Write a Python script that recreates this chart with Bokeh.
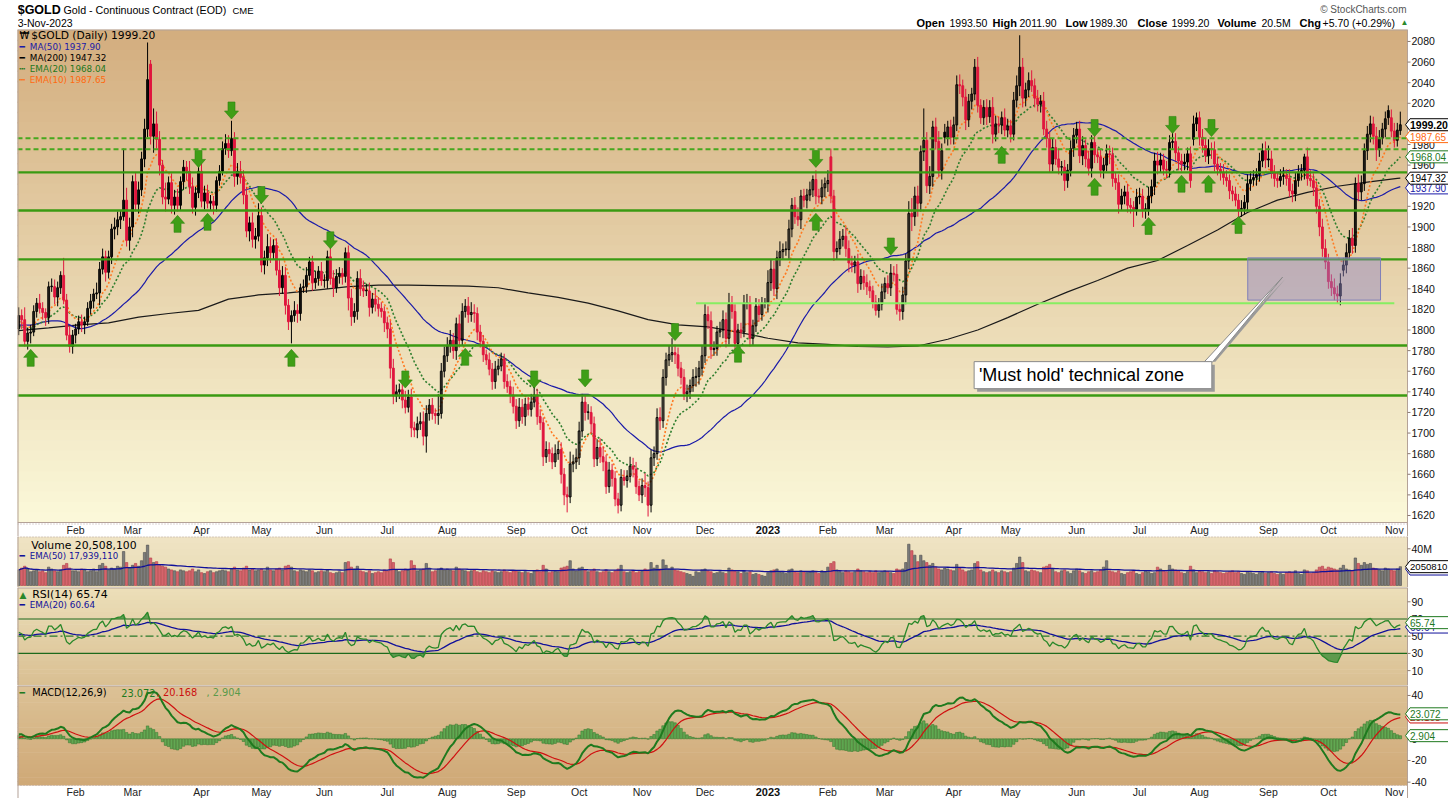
import numpy as np
import pandas as pd
from bokeh.plotting import figure
from bokeh.layouts import column
from bokeh.models import Range1d, Label
from bokeh.embed import file_html
from bokeh.resources import INLINE
from bokeh.core.properties import value

# ------------------------------------------------------------------ data
holidays = ["2022-01-17", "2022-02-21", "2022-04-15", "2022-05-30", "2022-06-20",
            "2022-07-04", "2022-09-05", "2022-11-24", "2022-12-26", "2023-01-02",
            "2023-01-16", "2023-02-20", "2023-04-07", "2023-05-29", "2023-06-19",
            "2023-07-04", "2023-09-04"]
first_day, last_day = "2022-01-04", "2023-11-03"

# closes before the visible window (22-Oct-2021 .. 3-Jan-2022), used for indicator warm-up
pre_closes = [1796, 1806, 1793, 1798, 1802, 1783, 1794, 1789, 1764, 1793, 1818, 1826, 1830,
              1849, 1862, 1868, 1867, 1853, 1868, 1862, 1852, 1805, 1790, 1784, 1788, 1785,
              1776, 1782, 1762, 1783, 1779, 1785, 1783, 1775, 1784, 1787, 1770, 1765, 1798,
              1804, 1791, 1790, 1803, 1809, 1811, 1810, 1805, 1814, 1828, 1801]

closes = [
    # 2022 Jan
    1814, 1810, 1789, 1797, 1798, 1818, 1826, 1821, 1817, 1812, 1842, 1842, 1832, 1841, 1853, 1829, 1795, 1784, 1795,
    # Feb
    1801, 1808, 1805, 1808, 1821, 1828, 1835, 1836, 1859, 1871, 1856, 1871, 1898, 1900, 1907, 1910, 1926, 1887, 1900,
    # Mar
    1944, 1922, 1936, 1966, 1995, 2043, 1988, 2000, 1985, 1960, 1929, 1927, 1943, 1921, 1929, 1921, 1944, 1958, 1954, 1939, 1919, 1933, 1954,
    # Apr
    1925, 1933, 1923, 1925, 1921, 1945, 1954, 1976, 1981, 1974, 1986, 1949, 1954, 1948, 1931, 1896, 1904, 1888, 1891, 1911,
    # May
    1863, 1870, 1881, 1875, 1882, 1858, 1841, 1853, 1824, 1808, 1814, 1819, 1816, 1841, 1842, 1853, 1866, 1846, 1850, 1857, 1848,
    # Jun
    1848, 1871, 1850, 1841, 1852, 1855, 1852, 1875, 1831, 1813, 1818, 1850, 1840, 1838, 1838, 1822, 1830, 1825, 1821, 1818, 1807,
    # Jul
    1801, 1763, 1736, 1740, 1742, 1732, 1725, 1735, 1705, 1703, 1709, 1711, 1697, 1719, 1727, 1719, 1717, 1719, 1760, 1775,
    # Aug
    1785, 1790, 1780, 1806, 1790, 1818, 1823, 1815, 1817, 1816, 1798, 1789, 1776, 1771, 1762, 1750, 1762, 1765, 1772, 1750, 1745, 1737, 1726,
    # Sep
    1712, 1725, 1716, 1728, 1723, 1730, 1737, 1716, 1710, 1677, 1684, 1680, 1672, 1680, 1684, 1660, 1640, 1638, 1670, 1672, 1676,
    # Oct
    1702, 1730, 1720, 1720, 1709, 1675, 1686, 1677, 1672, 1648, 1664, 1656, 1636, 1630, 1657, 1654, 1658, 1668, 1665, 1648, 1640,
    # Nov
    1649, 1647, 1630, 1676, 1680, 1715, 1712, 1754, 1771, 1776, 1778, 1776, 1763, 1754, 1738, 1740, 1746, 1754, 1755, 1763, 1775,
    # Dec
    1815, 1809, 1781, 1782, 1798, 1800, 1810, 1792, 1825, 1818, 1787, 1800, 1798, 1826, 1826, 1792, 1804, 1823, 1815, 1826, 1826,
    # 2023 Jan
    1846, 1859, 1840, 1870, 1876, 1878, 1878, 1898, 1921, 1910, 1907, 1930, 1926, 1931, 1936, 1946, 1930, 1929, 1938, 1942,
    # Feb
    1945, 1930, 1876, 1879, 1888, 1891, 1879, 1865, 1863, 1866, 1845, 1852, 1846, 1842, 1838, 1827, 1819, 1825, 1837,
    # Mar
    1845, 1841, 1855, 1854, 1820, 1818, 1834, 1867, 1913, 1910, 1930, 1923, 1973, 1984, 1940, 1949, 1997, 1983, 1955, 1974, 1987, 1997, 1987,
    # Apr
    1999, 2038, 2037, 2026, 2004, 2022, 2029, 2055, 2018, 2006, 2016, 2007, 2016, 1990, 2000, 1999, 2006, 1994, 1998,
    # May
    1990, 2023, 2037, 2055, 2025, 2033, 2042, 2037, 2025, 2019, 2022, 1995, 1986, 1961, 1977, 1966, 1958, 1958, 1945, 1955, 1976, 1989,
    # Jun
    1995, 1969, 1979, 1966, 1957, 1982, 1970, 1968, 1955, 1960, 1971, 1970, 1947, 1943, 1922, 1930, 1934, 1921, 1919, 1917, 1929,
    # Jul
    1930, 1917, 1917, 1930, 1939, 1964, 1960, 1965, 1956, 1955, 1982, 1983, 1972, 1964, 1961, 1963, 1971, 1945, 2000, 2006,
    # Aug
    1987, 1979, 1969, 1976, 1975, 1961, 1956, 1953, 1948, 1945, 1935, 1932, 1926, 1917, 1918, 1924, 1942, 1946, 1948, 1951, 1964, 1974, 1965,
    # Sep
    1966, 1953, 1947, 1945, 1949, 1950, 1947, 1935, 1932, 1945, 1953, 1955, 1968, 1947, 1945, 1938, 1920, 1900, 1879, 1866,
    # Oct
    1847, 1841, 1835, 1833, 1845, 1863, 1875, 1889, 1882, 1942, 1934, 1942, 1974, 1990, 2000, 1988, 1975, 1986, 1995, 2005, 2006, 1993,
    # Nov
    1984, 1994, 1999.2,
]

# opens that differ from the previous close (contract rolls, overnight gaps)
gap_opens = {"2022-03-09": 2058, "2023-02-02": 1968, "2023-03-29": 1992, "2023-07-28": 1985,
             "2023-10-09": 1858, "2023-10-30": 2013, "2023-11-03": 1993.5}

# distance of the high above the body / low below the body
wick_up = [
    8, 6, 12, 5, 7, 6, 5, 9, 6, 4, 5, 8, 7, 6, 4, 17, 6, 9, 5,
    5, 6, 7, 5, 6, 7, 5, 10, 7, 8, 6, 6, 5, 9, 8, 6, 50, 12, 9,
    6, 9, 8, 7, 10, 36, 4, 15, 12, 8, 5, 14, 6, 9, 7, 8, 5, 7, 6, 10, 9, 6, 5,
    9, 7, 8, 6, 5, 4, 6, 7, 9, 8, 17, 6, 8, 10, 7, 8, 6, 10, 8, 12,
    8, 7, 12, 9, 6, 7, 10, 9, 8, 6, 5, 9, 6, 4, 7, 8, 5, 6, 7, 5, 9,
    6, 6, 9, 8, 7, 6, 5, 5, 7, 9, 8, 7, 9, 8, 7, 8, 6, 9, 7, 6, 5,
    6, 8, 9, 7, 6, 8, 9, 7, 8, 6, 7, 9, 10, 8, 6, 7, 5, 19, 8, 9,
    8, 10, 7, 6, 9, 8, 7, 9, 10, 8, 6, 7, 6, 5, 7, 6, 8, 7, 6, 5, 7, 6, 8,
    7, 9, 8, 6, 7, 8, 9, 6, 7, 5, 8, 7, 6, 9, 8, 7, 6, 8, 12, 7, 9,
    9, 8, 7, 8, 6, 7, 8, 9, 10, 7, 8, 6, 7, 6, 8, 7, 6, 9, 8, 7, 6,
    7, 12, 6, 8, 7, 9, 10, 8, 7, 9, 14, 8, 7, 6, 8, 7, 6, 8, 9, 7, 10,
    10, 8, 9, 7, 6, 8, 9, 7, 11, 8, 7, 6, 7, 8, 9, 7, 6, 8, 7, 6, 5,
    12, 9, 8, 7, 10, 6, 8, 9, 7, 8, 9, 6, 7, 6, 8, 4, 9, 7, 8, 6,
    10, 8, 6, 7, 8, 7, 9, 8, 7, 6, 8, 7, 6, 8, 6, 5, 7, 6, 8,
    6, 8, 9, 7, 10, 6, 8, 7, 12, 15, 9, 10, 6, 31, 8, 10, 6, 9, 10, 7, 8, 6, 7,
    8, 9, 10, 6, 8, 7, 6, 8, 10, 6, 7, 8, 7, 10, 8, 7, 6, 9, 7,
    6, 8, 10, 31, 9, 7, 8, 10, 7, 8, 6, 9, 8, 7, 9, 8, 10, 6, 7, 6, 8, 7,
    7, 8, 9, 6, 8, 7, 9, 6, 8, 7, 9, 8, 7, 6, 8, 7, 6, 8, 7, 6, 8,
    8, 7, 6, 9, 7, 8, 9, 7, 6, 8, 7, 9, 8, 6, 7, 8, 6, 7, 8, 5,
    6, 8, 7, 9, 6, 8, 7, 6, 8, 7, 6, 5, 7, 6, 8, 7, 9, 8, 7, 6, 8, 7, 9,
    13, 8, 7, 6, 7, 8, 6, 9, 7, 8, 7, 6, 3, 9, 8, 7, 6, 7, 8, 9,
    8, 7, 9, 8, 10, 7, 9, 8, 10, 6, 9, 8, 7, 8, 8, 7, 9, 8, 6, 7, 5, 8,
    8, 7, 12.7,
]
wick_dn = [
    6, 9, 5, 8, 10, 4, 6, 5, 7, 8, 6, 5, 7, 9, 6, 4, 5, 6, 7,
    8, 5, 7, 9, 4, 6, 7, 5, 12, 5, 9, 6, 7, 10, 8, 9, 4, 6, 10,
    10, 7, 9, 6, 8, 8, 8, 16, 9, 10, 7, 12, 5, 8, 9, 6, 5, 8, 9, 7, 6, 8, 5,
    6, 8, 5, 7, 9, 6, 5, 4, 6, 7, 5, 10, 8, 6, 9, 6, 10, 8, 9, 5,
    7, 9, 8, 10, 6, 5, 8, 6, 9, 8, 21, 6, 9, 7, 5, 6, 5, 8, 6, 7, 5,
    7, 8, 6, 9, 5, 7, 8, 6, 12, 9, 6, 8, 7, 6, 5, 9, 6, 7, 8, 6, 9,
    9, 10, 8, 6, 7, 8, 6, 5, 9, 7, 8, 6, 9, 16, 7, 6, 8, 9, 5, 6,
    6, 7, 8, 9, 7, 5, 6, 8, 7, 9, 8, 6, 7, 5, 6, 8, 7, 6, 5, 7, 6, 8, 7,
    8, 6, 7, 9, 6, 7, 5, 8, 7, 9, 6, 8, 7, 5, 6, 9, 10, 15, 6, 8, 7,
    7, 6, 8, 7, 9, 8, 7, 6, 9, 7, 6, 8, 7, 8, 6, 5, 7, 6, 8, 7, 6,
    8, 9, 11, 7, 8, 6, 9, 7, 8, 6, 7, 9, 8, 7, 6, 8, 7, 6, 9, 8, 7,
    7, 8, 9, 6, 7, 5, 8, 9, 6, 7, 8, 7, 6, 5, 6, 8, 7, 6, 7, 6, 5,
    9, 8, 7, 10, 8, 7, 6, 9, 8, 7, 6, 9, 7, 8, 6, 7, 8, 6, 7, 9,
    8, 7, 9, 8, 6, 7, 8, 9, 7, 8, 9, 6, 7, 8, 7, 6, 5, 7, 6,
    7, 6, 8, 7, 5, 9, 8, 9, 8, 14, 9, 13, 8, 9, 7, 8, 10, 8, 7, 9, 6, 8, 7,
    7, 6, 8, 9, 10, 7, 8, 6, 7, 6, 7, 8, 6, 9, 7, 8, 9, 6, 7,
    8, 6, 7, 10, 9, 8, 7, 6, 9, 7, 8, 6, 9, 8, 7, 6, 7, 8, 10, 7, 6, 8,
    8, 7, 9, 8, 7, 9, 8, 6, 7, 8, 6, 9, 8, 7, 9, 6, 8, 7, 6, 17, 6,
    7, 8, 9, 6, 7, 8, 9, 7, 6, 8, 7, 6, 8, 9, 7, 6, 8, 7, 6, 7,
    8, 7, 6, 8, 9, 7, 6, 8, 7, 6, 8, 7, 6, 8, 7, 6, 8, 7, 6, 8, 7, 6, 8,
    7, 6, 8, 7, 6, 8, 7, 6, 8, 7, 6, 8, 9, 7, 6, 8, 7, 9, 8, 7,
    7, 8, 6, 7, 9, 6, 8, 7, 8, 7, 9, 8, 7, 9, 8, 8, 11, 7, 6, 8, 7, 6,
    7, 6, 4.2,
]

# daily volume, millions
volume_m = [
    17, 19, 21, 18, 15, 16, 17, 15, 16, 14, 20, 18, 16, 15, 17, 22, 24, 19, 16,
    16, 15, 18, 17, 15, 16, 18, 15, 22, 24, 21, 17, 19, 18, 21, 20, 37, 25, 19,
    22, 24, 21, 27, 36, 44, 30, 25, 26, 22, 21, 20, 18, 17, 16, 15, 17, 16, 15, 16, 18, 15, 17,
    14, 13, 15, 16, 14, 15, 16, 17, 16, 15, 18, 20, 17, 16, 19, 21, 17, 18, 16, 17,
    18, 16, 20, 17, 16, 18, 19, 17, 21, 22, 20, 16, 15, 17, 16, 15, 17, 16, 14, 15, 16,
    15, 17, 14, 13, 14, 15, 14, 25, 26, 20, 18, 21, 16, 15, 14, 16, 13, 14, 15, 14, 17,
    16, 29, 25, 17, 15, 16, 18, 17, 27, 22, 16, 17, 18, 24, 19, 15, 16, 18, 19, 17,
    18, 17, 16, 20, 18, 17, 16, 15, 16, 17, 15, 14, 16, 15, 14, 16, 15, 14, 15, 17, 15, 14, 16,
    16, 15, 14, 15, 14, 13, 16, 17, 15, 22, 18, 14, 15, 16, 15, 19, 20, 21, 27, 18, 16,
    19, 20, 17, 15, 16, 18, 15, 14, 15, 17, 15, 14, 16, 18, 22, 15, 14, 15, 16, 14, 15,
    16, 18, 17, 25, 19, 22, 18, 28, 22, 18, 20, 17, 16, 15, 14, 13, 12, 10, 15, 14, 17,
    18, 16, 15, 13, 14, 15, 14, 13, 19, 17, 16, 15, 13, 16, 14, 15, 12, 13, 12, 11, 10,
    14, 16, 17, 18, 15, 14, 13, 17, 18, 15, 14, 16, 15, 14, 15, 16, 14, 13, 16, 15,
    20, 24, 26, 17, 15, 14, 16, 15, 14, 15, 18, 16, 15, 14, 15, 14, 16, 14, 15,
    16, 15, 14, 13, 18, 17, 18, 25, 45, 38, 33, 26, 33, 27, 25, 22, 24, 20, 18, 17, 19, 18, 17,
    16, 23, 19, 17, 15, 16, 17, 24, 26, 17, 15, 14, 15, 17, 15, 14, 16, 15, 14,
    15, 19, 24, 31, 25, 16, 15, 17, 16, 15, 14, 20, 21, 23, 18, 15, 14, 16, 17, 15, 13, 16,
    18, 16, 14, 13, 15, 16, 14, 15, 17, 20, 27, 16, 15, 14, 16, 13, 12, 14, 15, 16, 13,
    12, 14, 16, 15, 13, 14, 20, 18, 16, 15, 22, 18, 17, 16, 14, 13, 15, 21, 17, 14,
    16, 15, 14, 15, 13, 16, 15, 14, 13, 14, 15, 16, 14, 15, 13, 12, 15, 14, 13, 12, 14, 15, 13,
    14, 15, 13, 12, 13, 12, 14, 15, 14, 16, 13, 12, 17, 16, 13, 14, 17, 20, 21, 18,
    20, 19, 18, 17, 19, 22, 18, 17, 16, 30, 24, 22, 25, 23, 24, 19, 18, 17, 16, 19, 18, 17,
    16, 18, 20.5,
]

# MA(200) every 10 sessions, plus the final value
ma200_every10 = [1799.4, 1802, 1805, 1807, 1812.5, 1816, 1819, 1830, 1834, 1836, 1839, 1842,
                 1843.5, 1843.5, 1843, 1842.5, 1841, 1836, 1831.7, 1826, 1818.5, 1810, 1805,
                 1803, 1798, 1792, 1787.5, 1786, 1784, 1783.5, 1784.5, 1791, 1800, 1812, 1825,
                 1837, 1848, 1860, 1867.4, 1882, 1897, 1914, 1926, 1933.5, 1939.5, 1943.5, 1947.2]
ma200_last = 1947.32

levels_solid = [1953, 1916, 1868.5, 1785, 1736.5]
levels_dashed = [1986, 1975.5]
support_ray = (226, 459, 1826)            # first session, last session, price
zone = (410.1, 454.4, 1829, 1870)          # sessions left/right, price bottom/top
arrows_down_day = [71, 60, 81, 104, 129, 172, 189, 219, 266, 291, 359, 385, 398]
arrows_down_px = [2013, 1966, 1931, 1887, 1752, 1752, 1753, 1798, 1966, 1881, 1996, 1999, 1996]
arrows_up_day = [4, 53, 63, 91, 149, 240, 266, 328, 359, 377, 388, 397, 407]
arrows_up_px = [1773, 1903, 1905, 1773, 1774, 1777, 1905, 1970, 1939, 1901, 1942, 1942, 1902]

price_ticks = list(range(1620, 2081, 20))
legend_vals = {"close": "1999.20", "ma50": "1937.90", "ma200": "1947.32",
               "ema20": "1968.04", "ema10": "1987.65"}

# ------------------------------------------------------------------ derived series
hol = pd.to_datetime(holidays)
dates = pd.bdate_range(first_day, last_day)
dates = dates[~dates.isin(hol)]
N = len(dates)
assert N == len(closes) == len(wick_up) == len(wick_dn) == len(volume_m), \
    (N, len(closes), len(wick_up), len(wick_dn), len(volume_m))

x = np.arange(N, dtype=float)
c = np.array(closes, float)
prev = np.r_[pre_closes[-1], c[:-1]]
o = prev.copy()
for d, v in gap_opens.items():
    o[dates.get_loc(pd.Timestamp(d))] = v
top = np.maximum(o, c)
bot = np.minimum(o, c)
hi = top + np.array(wick_up, float)
lo = bot - np.array(wick_dn, float)
body_top = np.where(top - bot < 0.6, bot + 0.6, top)
down = c < prev
col = np.where(down, "#e0163e", "#000000")
falpha = np.where(c < o, 1.0, 0.0)

allc = pd.Series(np.r_[np.array(pre_closes, float), c])
ma50 = allc.rolling(50, min_periods=1).mean().values[-N:]
ema20 = allc.ewm(span=20, adjust=False).mean().values[-N:]
ema10 = allc.ewm(span=10, adjust=False).mean().values[-N:]
macd_s = allc.ewm(span=12, adjust=False).mean() - allc.ewm(span=26, adjust=False).mean()
sig_s = macd_s.ewm(span=9, adjust=False).mean()
macd = macd_s.values[-N:]
sig = sig_s.values[-N:]
hist = macd - sig
dd = allc.diff().fillna(0)
ag = dd.clip(lower=0).ewm(alpha=1 / 14, adjust=False).mean()
al = (-dd).clip(lower=0).ewm(alpha=1 / 14, adjust=False).mean()
rsi_s = 100 - 100 / (1 + ag / al)
rsi = rsi_s.values[-N:]
rsi_ema = rsi_s.ewm(span=20, adjust=False).mean().values[-N:]
vol = np.array(volume_m, float)
vol_ema = pd.Series(vol).ewm(span=50, adjust=True).mean().values

ma200_x = list(range(0, N, 10)) + [N - 1]
ma200_y = ma200_every10 + [ma200_last]

months = dates.to_period("M")
starts = [i for i in range(1, N) if months[i] != months[i - 1]]
month_text = [dates[i].strftime("%b") if dates[i].month != 1 else str(dates[i].year)
              for i in starts]
year_mark = [dates[i].month == 1 for i in starts]

# ------------------------------------------------------------------ geometry / helpers
FRAME_L = 17          # page x of plot area left edge
PLOT_W = 1390         # width of the plotted area
TOTAL_W = 1448
UPX = 463.8 / PLOT_W  # sessions per pixel
X0 = -0.4
XEND = X0 + PLOT_W * UPX
XR = Range1d(X0, X0 + (TOTAL_W - FRAME_L) * UPX)
OUTLINE = "#b4a298"
DOTS = "#b8a8a8"
ARIAL = "Liberation Sans"
VERD = "DejaVu Sans"


def xpage(px):
    return X0 + (px - FRAME_L) * UPX


def hexmix(a, b, t):
    a = [int(a[i:i + 2], 16) for i in (1, 3, 5)]
    b = [int(b[i:i + 2], 16) for i in (1, 3, 5)]
    return "#%02x%02x%02x" % tuple(int(round(a[k] + (b[k] - a[k]) * t)) for k in range(3))


class Panel:
    """A plot area of `height` px spanning y0..y1, plus an optional month strip below."""

    def __init__(self, height, y0, y1, strip=0, top_dotted=False, bottom_dotted=False):
        self.y0, self.y1, self.h, self.strip = y0, y1, height, strip
        self.ppx = (y1 - y0) / height
        self.ylo = y0 - strip * self.ppx
        f = figure(width=TOTAL_W, frame_height=height + strip, x_range=XR,
                   y_range=Range1d(self.ylo, y1), output_backend="svg", toolbar_location=None,
                   min_border_left=FRAME_L, min_border_right=0, min_border_top=0,
                   min_border_bottom=0, y_axis_location=None, x_axis_location=None,
                   background_fill_color="white", border_fill_color="white",
                   outline_line_color=None)
        f.xgrid.visible = False
        f.ygrid.visible = False
        self.f = f
        self.top_dotted = top_dotted
        self.bottom_dotted = bottom_dotted

    def gradient(self, ctop, cbot, n=48):
        y0, y1 = self.y0, self.y1
        tops, bots, cols = [], [], []
        for k in range(n):
            tops.append(y1 - (y1 - y0) * k / n)
            bots.append(max(y0, y1 - (y1 - y0) * (k + 1.15) / n))
            cols.append(hexmix(ctop, cbot, (k + 0.5) / n))
        self.f.quad(left=X0 - 2, right=XEND, top=tops, bottom=bots, fill_color=cols,
                    line_color=None, level="underlay")

    def borders(self):
        f, y0, y1 = self.f, self.y0, self.y1
        f.segment(x0=[X0, XEND], x1=[X0, XEND], y0=[self.ylo, self.ylo], y1=[y1, y1],
                  line_color=OUTLINE, line_width=[2, 1])
        if self.bottom_dotted:
            f.segment(x0=[X0], x1=[XEND], y0=[y0], y1=[y0], line_color=DOTS, line_width=1,
                      line_dash="1 2")
        else:
            f.segment(x0=[X0], x1=[XEND], y0=[y0], y1=[y0], line_color=OUTLINE, line_width=1)
        if self.top_dotted:
            f.segment(x0=[X0], x1=[XEND], y0=[y1], y1=[y1], line_color=DOTS,
                      line_width=2, line_dash="1 2")
        else:
            f.segment(x0=[X0], x1=[XEND], y0=[y1], y1=[y1], line_color=OUTLINE, line_width=2)

    def months(self, center_px, dotted_px=None):
        yc = self.y0 - center_px * self.ppx
        reg = [i for i, m in zip(starts, year_mark) if not m]
        regt = [t for t, m in zip(month_text, year_mark) if not m]
        yr = [i for i, m in zip(starts, year_mark) if m]
        yrt = [t for t, m in zip(month_text, year_mark) if m]
        self.f.text(x=reg, y=[yc] * len(reg), text=regt, text_font=value(ARIAL),
                    text_font_size="10.5px", text_color="#222222", text_align="center",
                    text_baseline="middle")
        self.f.text(x=yr, y=[yc] * len(yr), text=yrt, text_font=value(ARIAL),
                    text_font_size="11px", text_font_style="bold", text_color="#111111",
                    text_align="center", text_baseline="middle")
        if dotted_px is not None:
            yd = self.y0 - dotted_px * self.ppx
            self.f.segment(x0=[X0], x1=[XEND], y0=[yd], y1=[yd], line_color=DOTS,
                           line_width=1, line_dash="1 2")

    def hline(self, yv, color, width, dash="solid", x_from=None, x_to=None):
        self.f.segment(x0=[X0 if x_from is None else x_from], x1=[XEND if x_to is None else x_to],
                       y0=[yv], y1=[yv], line_color=color, line_width=width, line_dash=dash)

    def ticks(self, vals, labels=None):
        labels = labels or [str(v) for v in vals]
        self.f.segment(x0=[XEND] * len(vals), x1=[XEND + 3 * UPX] * len(vals), y0=vals, y1=vals,
                       line_color="#8a7a70", line_width=1)
        self.f.text(x=[xpage(1411)] * len(vals), y=vals, text=labels, text_font=value(ARIAL),
                    text_font_size="10.5px", text_color="#111111", text_baseline="middle",
                    text_align="left")

    def tag(self, yv, text, color, bold=False, size=None):
        f = self.f
        hh = 6 * self.ppx
        f.patch([xpage(1405), xpage(1409.5), xpage(1449), xpage(1449), xpage(1409.5)],
                [yv, yv + hh, yv + hh, yv - hh, yv - hh],
                fill_color="white", line_color=color, line_width=1)
        f.text(x=[xpage(1409.5)], y=[yv], text=[text], text_font=value(ARIAL),
               text_font_size=size or ("10.5px" if bold else "10px"),
               text_font_style="bold" if bold else "normal",
               text_color=color, text_baseline="middle", text_align="left")

    def lab(self, text, xp, yp_from_top, color="#000000", size="10px", font=VERD, bold=False):
        self.f.add_layout(Label(x=xp - FRAME_L, y=self.h + self.strip - yp_from_top,
                                x_units="screen", y_units="screen", text=text, text_color=color,
                                text_font=font, text_font_size=size,
                                text_font_style="bold" if bold else "normal",
                                text_align="left", text_baseline="middle"))


# ------------------------------------------------------------------ header (same frame layout)
hd = figure(width=TOTAL_W, frame_height=29, x_range=Range1d(FRAME_L, TOTAL_W),
            y_range=Range1d(29, 0), output_backend="svg", toolbar_location=None,
            min_border_left=FRAME_L, min_border_right=0, min_border_top=0, min_border_bottom=0,
            x_axis_location=None, y_axis_location=None, outline_line_color=None,
            background_fill_color="white", border_fill_color="white")
hd.xgrid.visible = False
hd.ygrid.visible = False


def htext(xp, yp, t, size="11px", bold=False, color="#000000", align="left"):
    hd.text(x=[xp], y=[yp], text=[t], text_font=value(ARIAL), text_font_size=size,
            text_font_style="bold" if bold else "normal", text_color=color,
            text_align=align, text_baseline="middle")


htext(17.2, 9, "$GOLD", "12.5px", True)
htext(63, 9, "Gold - Continuous Contract (EOD)", "10.7px")
htext(232, 9.5, "CME", "9.5px")
htext(17.2, 22.5, "3-Nov-2023", "10.5px")
htext(1406, 9, "\u00a9 StockCharts.com", "10px", color="#555555", align="right")
for xp, t, b in [(916, "Open", True), (949, "1993.50", False), (992, "High", True),
                 (1019, "2011.90", False), (1065, "Low", True), (1089, "1989.30", False),
                 (1137, "Close", True), (1171, "1999.20", False), (1217, "Volume", True),
                 (1261, "20.5M", False), (1299, "Chg", True), (1322, "+5.70 (+0.29%)", False)]:
    htext(xp, 22.5, t, "11px" if b else "10.5px", b)
htext(1400, 22, "\u25b2", "8px", color="#2a8a2a")

# ------------------------------------------------------------------ price panel
PP = Panel(493, 1613.2, 2091.6, strip=14)
p = PP.f
PP.gradient("#d3ad7e", "#fbf9da")

p.line(ma200_x, ma200_y, line_color="#1a1a1a", line_width=1.2)
p.line(x, ma50, line_color="#1a1aa8", line_width=1.2)
p.line(x, ema20, line_color="#2e7e2e", line_width=1.6, line_dash="2 2")
p.line(x, ema10, line_color="#ff7a22", line_width=1.6, line_dash="2 2")

p.segment(x0=x, x1=x, y0=lo, y1=hi, line_color=list(col), line_width=1)
p.vbar(x=x, width=0.62, top=body_top, bottom=bot, fill_color=list(col), fill_alpha=list(falpha),
       line_color=list(col), line_width=1)

for lv in levels_solid:
    PP.hline(lv, "#3a9a12", 2.4)
for lv in levels_dashed:
    PP.hline(lv, "#46a81e", 2, "5 3")
PP.hline(support_ray[2], "#86ee62", 2, x_from=support_ray[0], x_to=support_ray[1])

# 'must hold' zone
p.quad(left=[zone[0]], right=[zone[1]], bottom=[zone[2]], top=[zone[3]],
       fill_color="#8e86c6", fill_alpha=0.45, line_color="#7f7fb8", line_width=1)

# arrows
shape = [(0, 8.5), (7, 0.5), (3.5, 0.5), (3.5, -8.5), (-3.5, -8.5), (-3.5, 0.5), (-7, 0.5)]
axs, ays = [], []
for dlist, plist, sgn in [(arrows_up_day, arrows_up_px, 1), (arrows_down_day, arrows_down_px, -1)]:
    for d, pv in zip(dlist, plist):
        axs.append([d + sx * UPX for sx, sy in shape])
        ays.append([pv + sgn * sy * PP.ppx for sx, sy in shape])
p.patches(axs, ays, fill_color="#3f9e16", line_color="#2f8410", line_width=0.6)

# callout
bx0, bx1, by0, by1 = 318.8, 398.1, 1743.1, 1769.3
tipx, tipy = 421.7, 1851.2
p.quad(left=[bx0 + 1], right=[bx1 + 1], bottom=[by0 - 3], top=[by1 - 3], fill_color="#9a9a9a",
       line_color=None)
p.patch([395.5 + 1, 398.3 + 1, tipx + 1], [by1, by1, tipy - 1.5], fill_color="#9a9a9a",
        line_color=None)
p.patch([395.5, 398.3, tipx], [by1 - 0.5, by1 - 0.5, tipy], fill_color="white",
        line_color="#8a8a8a", line_width=1)
p.quad(left=[bx0], right=[bx1], bottom=[by0], top=[by1], fill_color="white",
       line_color="#8a8a8a", line_width=1)
p.text(x=[320.4], y=[1756.2], text=["'Must hold' technical zone"], text_font=value(ARIAL),
       text_font_size="18px", text_baseline="middle", text_color="#000000")
PP.borders()
PP.ticks(price_ticks)
PP.months(7.5, dotted_px=1.5)

# legend
PP.lab("\u20a9", 19, 6, size="10px")
PP.lab("$GOLD (Daily) " + legend_vals["close"], 30.7, 6, size="10.7px")
PP.lab("\u2501", 19, 17, color="#1a1aa8", size="9px")
PP.lab("MA(50) " + legend_vals["ma50"], 29.3, 17, color="#1a1aa8", size="8.8px")
PP.lab("\u2501", 19, 28, color="#000000", size="9px")
PP.lab("MA(200) " + legend_vals["ma200"], 29.3, 28, size="8.8px")
PP.lab("\u2505", 19, 39.7, color="#1e781e", size="9px")
PP.lab("EMA(20) " + legend_vals["ema20"], 29.3, 39.7, color="#1e781e", size="8.8px")
PP.lab("\u2505", 19, 50.3, color="#ff6a10", size="9px")
PP.lab("EMA(10) " + legend_vals["ema10"], 29.3, 50.3, color="#ff6a10", size="8.8px")

PP.tag(1937.90, legend_vals["ma50"], "#1a1aa8")
PP.tag(1947.32, legend_vals["ma200"], "#000000")
PP.tag(1968.04, legend_vals["ema20"], "#1e781e")
PP.tag(1987.65, legend_vals["ema10"], "#ff6a10")
PP.tag(1999.20, legend_vals["close"], "#000000", bold=True)

# ------------------------------------------------------------------ volume panel
PV = Panel(51, -2.2, 53.4, top_dotted=True)
pv = PV.f
PV.gradient("#efe4c4", "#e9dab4", n=8)
vfill = np.where(down, "#d6636c", "#7c7c7c")
vline = np.where(down, "#b23a46", "#4e4e4e")
pv.vbar(x=x, width=0.8, top=vol, bottom=0, fill_color=list(vfill), line_color=list(vline),
        line_width=0.6)
pv.line(x, vol_ema, line_color="#10109a", line_width=1.3)
PV.borders()
PV.ticks([40], ["40M"])
PV.lab("Volume 20,508,100", 30.7, 9, size="10.8px")
PV.lab("\u2501", 19, 19.7, color="#10109a", size="9px")
PV.lab("EMA(50) 17,939,110", 29.3, 19.7, color="#10109a", size="8.6px")
PV.tag(17.94, "1793911", "#10109a", size="9.6px")
PV.tag(20.51, "2050810", "#000000", size="9.6px")

# ------------------------------------------------------------------ RSI panel
PR = Panel(98, -7.3, 106.6)
pr = PR.f
PR.gradient("#ecdfb9", "#d9bf92", n=24)
PR.hline(30, "#1c6a1c", 1.2)
PR.hline(70, "#1c6a1c", 1.2)
PR.hline(50, "#2a7a2a", 1.2, "8 3 2 3")
pr.varea(x=x, y1=70, y2=np.maximum(rsi, 70), fill_color="#3f8f3a", fill_alpha=0.8)
pr.varea(x=x, y1=np.minimum(rsi, 30), y2=30, fill_color="#3f8f3a", fill_alpha=0.8)
pr.line(x, rsi_ema, line_color="#10109a", line_width=1.3)
pr.line(x, rsi, line_color="#2a882a", line_width=1.3)
PR.borders()
PR.ticks([10, 30, 50, 70, 90])
PR.lab("\u25b2", 19, 7, color="#2a882a", size="9px")
PR.lab("RSI(14) 65.74", 31.7, 7, size="11px")
PR.lab("\u2501", 19, 17.7, color="#10109a", size="9px")
PR.lab("EMA(20) 60.64", 29.3, 17.7, color="#10109a", size="8.8px")
PR.tag(60.64, "60.64", "#10109a")
PR.tag(65.74, "65.74", "#1e781e")

# ------------------------------------------------------------------ MACD panel
PM = Panel(100, -43.1, 49.2, strip=13, bottom_dotted=True)
pm = PM.f
PM.gradient("#dcc296", "#cfa876", n=24)
pm.vbar(x=x, width=0.85, top=hist, bottom=0, fill_color="#62a852", line_color="#2f742a",
        line_width=0.5)
pm.line(x, sig, line_color="#d01010", line_width=1.2)
pm.line(x, macd, line_color="#1e7a1e", line_width=2)
PM.borders()
PM.ticks([-40, -20, 0, 20, 40])
PM.months(6.5)
PM.lab("\u2501", 19, 7.3, color="#1e7a1e", size="9px")
PM.lab("MACD(12,26,9)", 31.7, 7.3, size="9.8px")
PM.lab("23.072", 120.7, 7.3, color="#1e7a1e", size="9.8px")
PM.lab(", 20.168", 156.2, 7.3, color="#cc1010", size="9.8px")
PM.lab(", 2.904", 206, 7.3, color="#5a9a4a", size="9.8px")
PM.tag(20.168, "20.168", "#cc1010")
PM.tag(23.072, "23.072", "#1e781e")
PM.tag(2.904, "2.904", "#1e781e")

layout = column(hd, p, pv, pr, pm, spacing=0)
open("out.html", "w").write(file_html(layout, INLINE))
